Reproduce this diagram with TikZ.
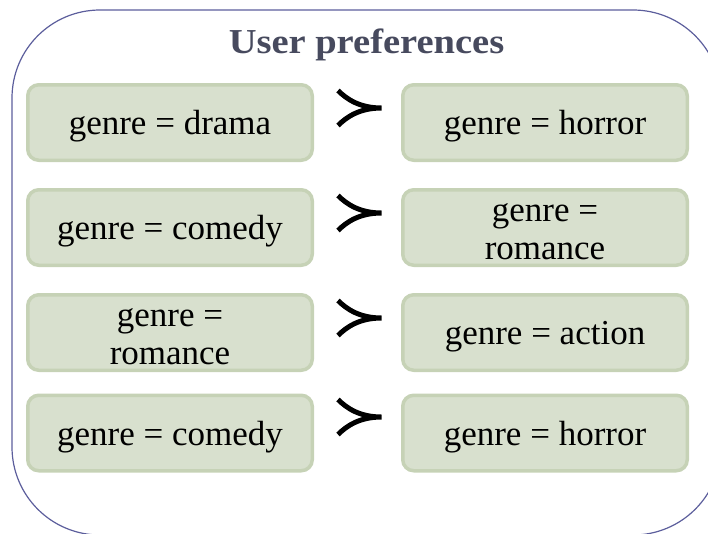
\documentclass[tikz,border=0pt]{standalone}
\usepackage{fontspec}
\setmainfont{Liberation Serif}
\newfontfamily\headfont[FakeStretch=1.1]{Liberation Serif}
\definecolor{frameline}{HTML}{5C5E9C}
\definecolor{titleink}{HTML}{474A5E}
\definecolor{boxfill}{HTML}{D8E0CE}
\definecolor{boxedge}{HTML}{C6D2B6}
\tikzset{
  prefbox/.style={draw=boxedge, fill=boxfill, line width=3.5pt,
    rounded corners=11pt, minimum width=284.5pt, minimum height=75.5pt,
    inner sep=0pt},
  boxtext/.style={align=center, inner sep=0pt, yshift=-4pt,
    font=\fontsize{35}{38}\selectfont},
  frame/.style={draw=frameline, line width=1.2pt, rounded corners=88pt},
  title/.style={text=titleink, font=\headfont\fontsize{35}{40}\selectfont\bfseries},
  prefsym/.pic={
    \draw[line width=5pt, line cap=butt]
      (-21.5,-17.5) .. controls (-13,-9) and (0,0) .. (22,0)
      (-21.5,17.5) .. controls (-13,9) and (0,0) .. (22,0);
  }
}
\begin{document}
\begin{tikzpicture}[x=1pt, y=-1pt]
  \useasboundingbox (0,0) rectangle (708,533);
  \begin{scope}
    \clip (0,0) rectangle (708,533);
    \draw[frame] (12,10) rectangle (721,535);
  \end{scope}

  \node[title] (head) at (366.5,45) {User preferences};

  % left column: preferred values
  \node[prefbox, label={[boxtext]center:genre = drama}]   (l1) at (170,122.5) {};
  \node[prefbox, label={[boxtext]center:genre = comedy}]  (l2) at (170,227.5) {};
  \node[prefbox, label={[boxtext]center:genre =\\romance}] (l3) at (170,332.5) {};
  \node[prefbox, label={[boxtext]center:genre = comedy}]  (l4) at (170,433)   {};

  % right column: less preferred values
  \node[prefbox, label={[boxtext]center:genre = horror}]  (r1) at (545,122.5) {};
  \node[prefbox, label={[boxtext]center:genre =\\romance}] (r2) at (545,227.5) {};
  \node[prefbox, label={[boxtext]center:genre = action}]  (r3) at (545,332.5) {};
  \node[prefbox, label={[boxtext]center:genre = horror}]  (r4) at (545,433)   {};

  % preference relation symbols between the columns
  \pic at (359.5,108) {prefsym};
  \pic at (359.5,213) {prefsym};
  \pic at (359.5,318) {prefsym};
  \pic at (359.5,417) {prefsym};
\end{tikzpicture}
\end{document}
